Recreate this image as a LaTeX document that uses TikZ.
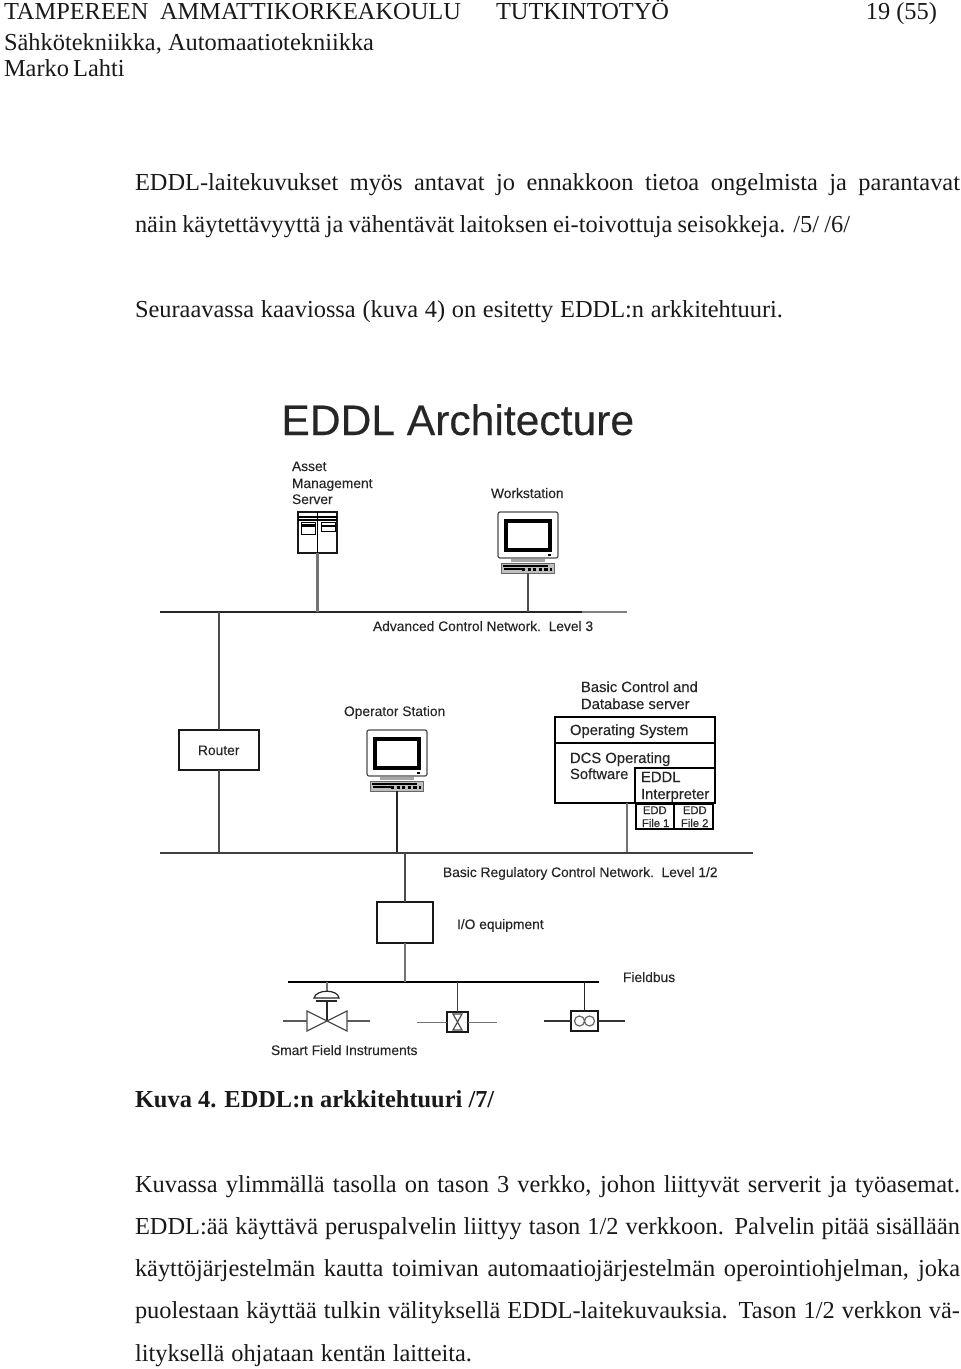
\documentclass[tikz,border=0pt]{standalone}
\usepackage{fontspec}
\setmainfont{Liberation Serif}
\newfontfamily\dsans[FakeBold=0.12]{Liberation Sans}
\newfontfamily\dsansb[FakeBold=0.3]{Liberation Sans}
\newcommand{\pgbox}[7]{\node[#6,minimum width={(#4-#2)*0.5pt},minimum height={(#5-#3)*0.5pt}] (#1) at ({(#2+#4)/2},{(#3+#5)/2}) {#7};}
\newcommand{\monitor}[3]{% name, left x, top y
  \begin{scope}[shift={(#2,#3)}]
    \node[monframe,minimum width=30pt,minimum height=23pt] (#1mon) at (30,23) {};
    \node[monscreen,minimum width=22pt,minimum height=14.5pt] (#1scr) at (30,23.5) {};
    \fill[gray!70] (13,47) rectangle (47,50);
    \node[kbd,minimum width=26.5pt,minimum height=5pt] (#1) at (30,56) {};
    \draw[black,line width=1pt] (5,53.5) -- (50,53.5);
    \draw[black,line width=1.3pt] (6,57) -- (24,57);
    \draw[black,line width=1.8pt,dash pattern=on 1.6pt off 1.2pt] (24,57.5) -- (54,57.5);
    \fill[black] (50,42) rectangle (53,44);
  \end{scope}}
\tikzset{
  body/.style={anchor=base west,inner sep=0pt,outer sep=0pt,text=black!90,font=\fontsize{12.2}{14}\selectfont},
  lab/.style={anchor=base west,inner sep=0pt,outer sep=0pt,text=black!85,font=\dsans\fontsize{6.9}{8}\selectfont},
  labb/.style={lab,font=\dsansb\fontsize{7.4}{8}\selectfont},
  labs/.style={lab,font=\dsansb\fontsize{5.6}{6}\selectfont},
  bus/.style={draw=black!85,line width=0.8pt},
  stem/.style={draw=black!55,line width=1.2pt},
  thinbox/.style={draw=black!90,line width=0.75pt,fill=white,inner sep=0pt,outer sep=0pt},
  heavybox/.style={draw=black,line width=1.3pt,fill=white,inner sep=0pt,outer sep=0pt},
  monframe/.style={draw=black!70,line width=0.6pt,fill=white,inner sep=0pt,outer sep=0pt,rounded corners=1pt},
  monscreen/.style={draw=black,line width=2pt,fill=white,inner sep=0pt},
  kbd/.style={draw=black!60,line width=0.5pt,fill=black!25,inner sep=0pt,outer sep=0pt},
  pipe/.style={draw=black!65,line width=0.6pt},
  sym/.style={draw=black!85,line width=0.6pt},
}
\begin{document}
\begin{tikzpicture}[x=0.5pt,y=-0.5pt]
\useasboundingbox (0,0) rectangle (960,1369);
% page header
\node[body] (h1) at (4,20) {\makebox[228.5pt][s]{TAMPEREEN AMMATTIKORKEAKOULU}};
\node[body] (h2) at (496,20) {TUTKINTOTYÖ};
\node[body,anchor=base east] (h3) at (937,20) {19 (55)};
\node[body] (h4) at (4,50.5) {Sähkötekniikka, Automaatiotekniikka};
\node[body] (h5) at (4,77) {\makebox[60pt][s]{Marko Lahti}};
% upper text
\node[body] (t1) at (135,191) {\makebox[412.5pt][s]{EDDL-laitekuvukset myös antavat jo ennakkoon tietoa ongelmista ja parantavat}};
\node[body] (t2) at (135,233) {\makebox[357.5pt][s]{näin käytettävyyttä ja vähentävät laitoksen ei-toivottuja seisokkeja. /5/ /6/}};
\node[body] (t3) at (135,318) {\makebox[324pt][s]{Seuraavassa kaaviossa (kuva 4) on esitetty EDDL:n arkkitehtuuri.}};
% title
\node[anchor=base west,inner sep=0pt,text=black!85,font=\dsansb\fontsize{21.3}{24}\selectfont] (title) at (281,435) {EDDL Architecture};
% asset server
\node[lab] (a1) at (292,471) {Asset};
\node[lab] (a2) at (292,488) {Management};
\node[lab] (a3) at (292,504) {Server};
\pgbox{srv}{298}{512}{337}{553}{thinbox}{}
\draw[black,line width=0.7pt] (317.5,512) -- (317.5,553) (298,517) -- (337,517) (298,520) -- (337,520);
\draw[black,line width=0.5pt] (301,522) rectangle (315,534);
\fill[black] (301,524) rectangle (315,527);
\draw[black,line width=0.5pt] (321,522) rectangle (335,531);
\fill[black] (321,525) rectangle (335,527);
% workstation
\node[lab] (ws) at (491,498) {Workstation};
\monitor{wsk}{498}{512}
% level 3 bus
\coordinate (l3a) at (160,612);
\coordinate (l3b) at (582,612);
\coordinate (l3c) at (627,612);
\draw[bus] (l3a) -- (l3b);
\draw[draw=black!50,line width=0.8pt] (l3b) -- (l3c);
\node[lab] (l3) at (373,631) {Advanced Control Network.\ \ Level 3};
\coordinate (srvb) at (srv.south |- l3a);
\draw[stem] (srv.south) -- (srvb);
\coordinate (wsb) at (wsk.south |- l3a);
\draw[stem,draw=black!70,line width=0.8pt] (wsk.south) -- (wsb);
% router
\pgbox{rt}{179}{730}{259}{770}{thinbox}{}
\node[lab] (rtl) at (198,755) {Router};
\coordinate (rtt) at (rt.north |- l3a);
\coordinate (l2a) at (160,853);
\coordinate (l2b) at (753,853);
\coordinate (rtb) at (rt.south |- l2a);
\draw[stem,draw=black!70,line width=0.9pt] (rtt) -- (rt.north);
\draw[stem,draw=black!70,line width=0.9pt] (rt.south) -- (rtb);
% operator station
\node[lab] (op) at (344,716) {Operator Station};
\monitor{opk}{367}{730}
\coordinate (opb) at (opk.south |- l2a);
\draw[stem,draw=black!85,line width=0.8pt] (opk.south) -- (opb);
% basic control server
\node[labb] (b1) at (581,692) {Basic Control and};
\node[labb] (b2) at (581,709) {Database server};
\pgbox{dcs}{555}{717}{715}{803}{heavybox}{}
\coordinate (dl) at (555,743);
\coordinate (dr) at (715,743);
\draw[black,line width=1.3pt] (dl) -- (dr);
\node[labb] (o1) at (570,735) {Operating System};
\node[labb] (o2) at (570,763) {DCS Operating};
\node[labb] (o3) at (570,779) {Software};
\pgbox{itp}{635}{768}{715}{803}{heavybox}{}
\node[labb] (i1) at (641,782) {EDDL};
\node[labb] (i2) at (641,799) {Interpreter};
\pgbox{f1}{636}{804}{674}{829}{heavybox}{}
\pgbox{f2}{674}{804}{713}{829}{heavybox}{}
\node[labs] (f1a) at (643,814) {EDD};
\node[labs] (f1b) at (642,827) {File 1};
\node[labs] (f2a) at (683,814) {EDD};
\node[labs] (f2b) at (681,827) {File 2};
\coordinate (dcst) at (627,803);
\coordinate (dcsb) at (627,853);
\draw[stem,line width=0.9pt] (dcst) -- (dcsb);
% level 1/2 bus
\draw[bus,draw=black!75] (l2a) -- (l2b);
\node[lab] (l2) at (443,877) {Basic Regulatory Control Network.\ \ Level 1/2};
% I/O
\pgbox{io}{377}{902}{433}{943}{thinbox}{}
\node[lab] (iol) at (457,929) {I/O equipment};
\coordinate (iot) at (io.north |- l2a);
\draw[stem,draw=black!70,line width=0.9pt] (iot) -- (io.north);
% fieldbus
\coordinate (fa) at (288,982);
\coordinate (fb) at (599,982);
\draw[bus,draw=black] (fa) -- (fb);
\node[lab] (fl) at (623,982) {Fieldbus};
\coordinate (iob) at (io.south |- fa);
\draw[stem] (io.south) -- (iob);
% valve
\coordinate (vt) at (327,982);
\coordinate (vc) at (327,1021);
\draw[stem,line width=0.9pt] (vt) -- (327,992);
\draw[sym,fill=white] (314,998) .. controls (316,989) and (338,989) .. (339,998) -- cycle;
\draw[sym,line width=0.8pt] (316,1001) -- (337,1001);
\draw[sym,line width=0.8pt] (327,1001) -- (vc);
\draw[sym,draw=black!70] (vc) -- (307,1011) -- (307,1031) -- cycle;
\draw[sym,draw=black!70] (vc) -- (347,1011) -- (347,1031) -- cycle;
\draw[pipe] (283,1021) -- (307,1021) (347,1021) -- (370,1021);
% instrument 2
\pgbox{ins}{447}{1012}{468}{1032}{thinbox}{}
\coordinate (inst) at (ins.north |- fa);
\draw[stem,draw=black!75,line width=0.8pt] (inst) -- (ins.north);
\draw[draw=black!55,line width=0.5pt] (417,1022) -- (ins.west) (ins.east) -- (497,1022);
\draw[draw=black!70,line width=0.6pt] (453,1014) -- (462,1014) -- (453,1030) -- (462,1030) -- cycle;
% instrument 3
\pgbox{inf}{571}{1011}{598}{1031}{thinbox}{}
\coordinate (inft) at (inf.north |- fa);
\draw[stem,draw=black!85,line width=0.8pt] (inft) -- (inf.north);
\draw[pipe,draw=black!80] (544,1021) -- (inf.west) (inf.east) -- (625,1021);
\draw[draw=black!60,line width=0.6pt] (579.5,1021) circle (5) (589.5,1021) circle (5);
\node[lab] (sf) at (271,1055) {Smart Field Instruments};
% caption
\node[body,font=\bfseries\fontsize{12.2}{14}\selectfont] (cap) at (135,1107) {Kuva 4. EDDL:n arkkitehtuuri /7/};
% lower text
\node[body] (p1) at (135,1192) {\makebox[412.5pt][s]{Kuvassa ylimmällä tasolla on tason 3 verkko, johon liittyvät serverit ja työasemat.}};
\node[body] (p2) at (135,1234) {\makebox[412.5pt][s]{EDDL:ää käyttävä peruspalvelin liittyy tason 1/2 verkkoon. Palvelin pitää sisällään}};
\node[body] (p3) at (135,1276) {\makebox[412.5pt][s]{käyttöjärjestelmän kautta toimivan automaatiojärjestelmän operointiohjelman, joka}};
\node[body] (p4) at (135,1318) {\makebox[412.5pt][s]{puolestaan käyttää tulkin välityksellä EDDL-laitekuvauksia. Tason 1/2 verkkon vä-}};
\node[body] (p5) at (135,1361) {\makebox[168.5pt][s]{lityksellä ohjataan kentän laitteita.}};
\end{tikzpicture}
\end{document}
